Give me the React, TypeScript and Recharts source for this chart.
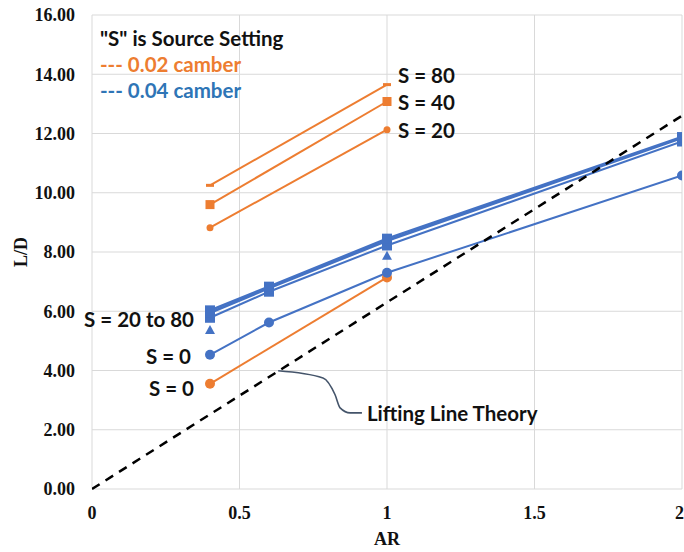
import { CartesianGrid, Label, Line, LineChart, ReferenceDot, XAxis, YAxis } from "recharts";

// AR positions
const arShort = [0.4, 1];
const arLong = [0.4, 0.6, 1, 2];

// 0.02 camber (orange)
const orangeS80 = [10.25, 13.65];
const orangeS40 = [9.6, 13.08];
const orangeS20 = [8.82, 12.13];
const orangeS0 = [3.55, 7.14];

// 0.04 camber (blue)
const blueS0 = [4.53, 5.62, 7.3, 10.58];
const blueS80 = [6.03, 6.83, 8.45, 11.88];
const blueS40 = [5.95, 6.78, 8.38, 11.85];
const blueS20 = [5.78, 6.66, 8.22, 11.73];
const blueTriangle = [5.37, 7.87];

// lifting line theory
const theoryAR = [0, 2];
const theoryLD = [0, 12.6];

// callout curve for the theory label
const calloutAR = [0.631, 0.783, 0.824, 0.841, 0.875, 0.915];
const calloutLD = [3.99, 3.75, 3.18, 2.74, 2.57, 2.57];

const xTicks = [0, 0.5, 1, 1.5, 2];
const yTicks = [0, 2, 4, 6, 8, 10, 12, 14, 16];

const ORANGE = "#ed7d31";
const BLUE = "#4472c4";

const pts = (xs: number[], ys: number[]) => xs.map((x, i) => ({ x, y: ys[i] }));

const square = (size: number, color: string) => (p: any) => (
  <rect key={`sq-${p.index}`} x={p.cx - size / 2} y={p.cy - size / 2} width={size} height={size} fill={color} />
);
const circle = (r: number, color: string) => (p: any) => (
  <circle key={`ci-${p.index}`} cx={p.cx} cy={p.cy} r={r} fill={color} />
);
const dash = (color: string) => (p: any) => (
  <rect key={`da-${p.index}`} x={p.cx - 4} y={p.cy - 1.5} width={8} height={3} fill={color} />
);
const triangle = (color: string) => (p: any) => (
  <path key={`tr-${p.index}`} d={`M${p.cx},${p.cy - 5} L${p.cx + 5},${p.cy + 4} L${p.cx - 5},${p.cy + 4} Z`} fill={color} />
);

const labelFont = "Lato, 'Open Sans', sans-serif";
const tickFont = { fontFamily: "'Liberation Serif', serif", fontWeight: "bold", fontSize: 18, fill: "#111" };

const notes = [
  { x: 0.027, y: 15.24, text: '"S" is Source Setting', color: "#111", anchor: "start", dx: 0 },
  { x: 0.027, y: 14.36, text: "--- 0.02 camber", color: ORANGE, anchor: "start", dx: 0 },
  { x: 0.027, y: 13.48, text: "--- 0.04 camber", color: "#2e75b6", anchor: "start", dx: 0 },
  { x: 1, y: 13.99, text: "S = 80", color: "#111", anchor: "start", dx: 11 },
  { x: 1, y: 13.07, text: "S = 40", color: "#111", anchor: "start", dx: 11 },
  { x: 1, y: 12.13, text: "S = 20", color: "#111", anchor: "start", dx: 11 },
  { x: 0.4, y: 5.74, text: "S = 20 to 80", color: "#111", anchor: "end", dx: -16 },
  { x: 0.4, y: 4.49, text: "S = 0", color: "#111", anchor: "end", dx: -19 },
  { x: 0.4, y: 3.41, text: "S = 0", color: "#111", anchor: "end", dx: -16 },
  { x: 0.932, y: 2.57, text: "Lifting Line Theory", color: "#111", anchor: "start", dx: 0 },
];

export default function App() {
  return (
    <div style={{ position: "absolute", left: 0, top: 0, background: "#fff" }}>
      <LineChart width={684} height={552} margin={{ top: 15, right: 2, bottom: 13, left: 12 }}>
        <CartesianGrid stroke="#d9d9d9" strokeWidth={1} />
        <XAxis
          dataKey="x"
          type="number"
          domain={[0, 2]}
          ticks={xTicks}
          axisLine={false}
          tickLine={false}
          height={50}
          tickMargin={11}
          tick={tickFont}
          allowDataOverflow
        >
          <Label
            content={({ viewBox }: any) => (
              <text x={viewBox.x + viewBox.width / 2} y={viewBox.y + 56} textAnchor="middle"
                fontFamily="'Liberation Serif', serif" fontWeight="bold" fontSize={18} fill="#111">
                AR
              </text>
            )}
          />
        </XAxis>
        <YAxis
          type="number"
          domain={[0, 16]}
          ticks={yTicks}
          axisLine={false}
          tickLine={false}
          width={80}
          tickMargin={11}
          tickFormatter={(v: number) => v.toFixed(2)}
          tick={tickFont}
        >
          <Label
            content={({ viewBox }: any) => {
              const cx = viewBox.x + 9;
              const cy = viewBox.y + viewBox.height / 2;
              return (
                <text x={cx} y={cy} transform={`rotate(-90 ${cx} ${cy})`} textAnchor="middle" dominantBaseline="central"
                  fontFamily="'Liberation Serif', serif" fontWeight="bold" fontSize={18} fill="#111">
                  L/D
                </text>
              );
            }}
          />
        </YAxis>

        <Line data={pts(calloutAR, calloutLD)} dataKey="y" type="monotone" stroke="#44546a" strokeWidth={1.6} dot={false} isAnimationActive={false} />

        <Line data={pts(arShort, orangeS0)} dataKey="y" stroke={ORANGE} strokeWidth={2} dot={circle(5, ORANGE)} isAnimationActive={false} />
        <Line data={pts(arShort, orangeS20)} dataKey="y" stroke={ORANGE} strokeWidth={2} dot={circle(3.5, ORANGE)} isAnimationActive={false} />
        <Line data={pts(arShort, orangeS40)} dataKey="y" stroke={ORANGE} strokeWidth={2} dot={square(9, ORANGE)} isAnimationActive={false} />
        <Line data={pts(arShort, orangeS80)} dataKey="y" stroke={ORANGE} strokeWidth={2} dot={dash(ORANGE)} isAnimationActive={false} />

        <Line data={pts(arLong, blueS0)} dataKey="y" stroke={BLUE} strokeWidth={2} dot={circle(5, BLUE)} isAnimationActive={false} />
        <Line data={pts(arLong, blueS20)} dataKey="y" stroke={BLUE} strokeWidth={2} dot={square(10, BLUE)} isAnimationActive={false} />
        <Line data={pts(arLong, blueS40)} dataKey="y" stroke={BLUE} strokeWidth={2.5} dot={square(10, BLUE)} isAnimationActive={false} />
        <Line data={pts(arLong, blueS80)} dataKey="y" stroke={BLUE} strokeWidth={2.5} dot={square(10, BLUE)} isAnimationActive={false} />
        <Line data={pts(arShort, blueTriangle)} dataKey="y" stroke="none" dot={triangle(BLUE)} isAnimationActive={false} />

        <Line data={pts(theoryAR, theoryLD)} dataKey="y" stroke="#000" strokeWidth={2.5} strokeDasharray="9 7" dot={false} isAnimationActive={false} />

        {notes.map((n, i) => (
          <ReferenceDot
            key={i}
            x={n.x}
            y={n.y}
            r={0}
            ifOverflow="visible"
            shape={(p: any) => (
              <text x={p.cx + n.dx} y={p.cy} textAnchor={n.anchor as any} dominantBaseline="central"
                fontFamily={labelFont} fontWeight="bold" fontSize={20.5} fill={n.color}>
                {n.text}
              </text>
            )}
          />
        ))}
      </LineChart>
    </div>
  );
}
